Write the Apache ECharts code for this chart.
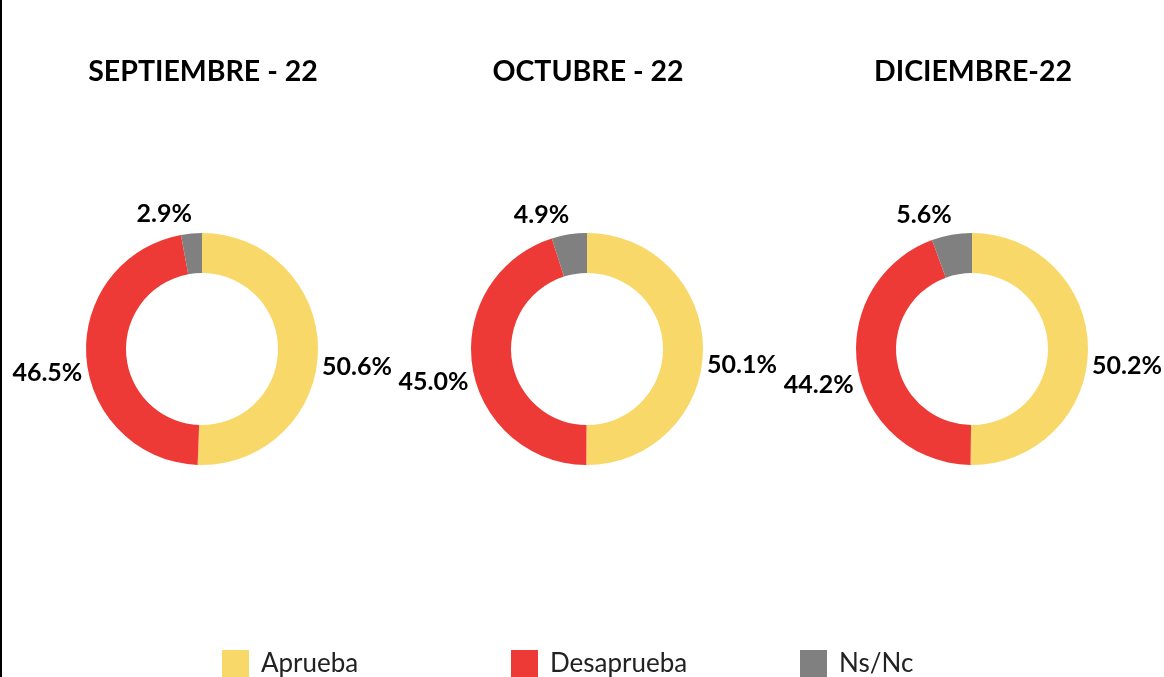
<!DOCTYPE html>
<html>
<head>
<meta charset="utf-8">
<script src="https://cdn.jsdelivr.net/npm/echarts@6/dist/echarts.min.js"></script>
<style>
    html, body { margin: 0; padding: 0; background: #fff; }
    #chart { width: 1162px; height: 677px; border-left: 2px solid #000; }
</style>
</head>
<body>
<div id="chart"></div>
<script>
// 数据
const categories = ['Aprueba', 'Desaprueba', 'Ns/Nc']
const months = ['SEPTIEMBRE - 22', 'OCTUBRE - 22', 'DICIEMBRE-22']
const septiembre = [50.6, 46.5, 2.9]
const octubre = [50.1, 45.0, 4.9]
const diciembre = [50.2, 44.2, 5.6]
const monthValues = [septiembre, octubre, diciembre]

const colors = ['#F9D86A', '#EE3A36', '#808080']
const centersX = [200, 585, 970]
const legendLeft = [215, 504, 793]
// 标签微调（按扇区）
const labelShift = [
    { dx: -7, dy: 16 },
    { dx: 7, dy: 15 },
    { dx: 6, dy: -14 }
]
const fontFamily = 'Lato, "Noto Sans", sans-serif'

const chart = echarts.init(document.getElementById('chart'))

const option = {
    color: colors,
    title: months.map((m, i) => ({
        text: m,
        left: centersX[i] - 4,
        top: 52,
        textAlign: 'center',
        textStyle: {
            fontFamily,
            fontSize: 28.5,
            fontWeight: 'bold',
            color: '#000'
        }
    })),
    legend: categories.map((c, i) => ({
        data: [c],
        left: legendLeft[i],
        top: 645,
        itemWidth: 27,
        itemHeight: 27,
        itemGap: 0,
        icon: 'rect',
        selectedMode: false,
        textStyle: {
            fontFamily,
            fontSize: 26,
            color: '#222',
            padding: [0, 0, 0, 7]
        }
    })),
    series: monthValues.map((vals, i) => ({
        type: 'pie',
        center: [centersX[i], 349],
        radius: [76, 116],
        startAngle: 90,
        clockwise: true,
        avoidLabelOverlap: false,
        emphasis: { disabled: true },
        label: {
            show: true,
            position: 'outside',
            formatter: p => p.value.toFixed(1) + '%',
            fontFamily,
            fontSize: 25,
            fontWeight: 'bold',
            color: '#000'
        },
        labelLine: {
            show: false,
            length: 6,
            length2: 0
        },
        labelLayout: p => labelShift[p.dataIndex],
        data: categories.map((c, j) => ({ name: c, value: vals[j] }))
    }))
}

chart.setOption(option)
</script>
</body>
</html>
